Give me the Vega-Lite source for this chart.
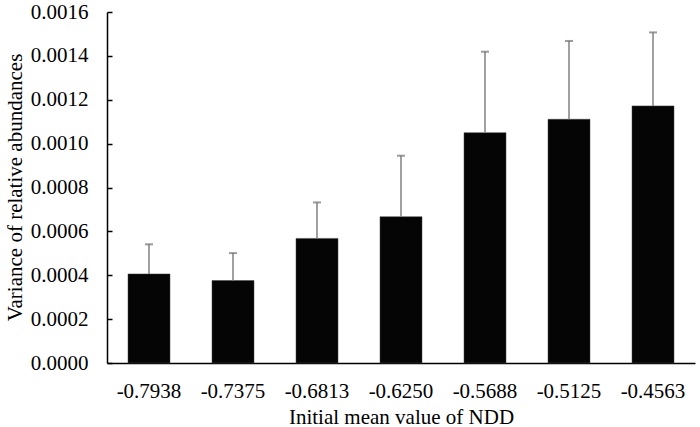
{
  "$schema": "https://vega.github.io/schema/vega-lite/v6.json",
  "autosize": {"type": "none"},
  "width": 588,
  "height": 351,
  "padding": {"left": 107, "top": 12, "right": 5, "bottom": 64},
  "background": "white",
  "config": {
    "view": {"stroke": null},
    "font": "Liberation Serif",
    "axis": {"grid": false, "domainColor": "#000000", "domainWidth": 1.5, "labelColor": "#000000", "titleColor": "#000000", "labelFont": "Liberation Serif", "titleFont": "Liberation Serif", "labelFontSize": 21, "titleFontSize": 21, "titleFontWeight": "normal"}
  },
  "data": {
    "values": [
      {"ndd": "-0.7938", "variance": 0.000406, "upper": 0.000541},
      {"ndd": "-0.7375", "variance": 0.000376, "upper": 0.000501},
      {"ndd": "-0.6813", "variance": 0.000568, "upper": 0.000732},
      {"ndd": "-0.6250", "variance": 0.000667, "upper": 0.000945},
      {"ndd": "-0.5688", "variance": 0.00105, "upper": 0.001419},
      {"ndd": "-0.5125", "variance": 0.001111, "upper": 0.001468},
      {"ndd": "-0.4563", "variance": 0.001172, "upper": 0.001507}
    ]
  },
  "encoding": {
    "x": {
      "field": "ndd", "type": "ordinal", "sort": null,
      "scale": {"paddingInner": 0.5, "paddingOuter": 0.25},
      "axis": {"title": "Initial mean value of NDD", "labelAngle": 0, "ticks": false, "labelPadding": 34, "labelBaseline": "alphabetic", "titleX": 294, "titleY": 60, "titleBaseline": "alphabetic", "titleAnchor": null, "titleAlign": "center"}
    }
  },
  "layer": [
    {
      "mark": {"type": "bar", "color": "#050505", "stroke": "#444444", "strokeWidth": 0.5},
      "encoding": {
        "y": {
          "field": "variance", "type": "quantitative",
          "scale": {"domain": [0, 0.0016], "nice": false},
          "axis": {"title": "Variance of relative abundances", "format": ".4f", "values": [0, 0.0002, 0.0004, 0.0006, 0.0008, 0.001, 0.0012, 0.0014, 0.0016], "tickSize": -5, "tickColor": "#000000", "tickWidth": 1.5, "labelPadding": 24, "labelBaseline": "middle", "titleX": -92, "titleY": 175, "titleAngle": -90, "titleBaseline": "middle", "titleAlign": "center", "titleAnchor": null}
        }
      }
    },
    {
      "mark": {"type": "rule", "color": "#808080", "strokeWidth": 1.5},
      "encoding": {
        "y": {"field": "variance", "type": "quantitative"},
        "y2": {"field": "upper"}
      }
    },
    {
      "mark": {"type": "tick", "color": "#707070", "size": 8, "thickness": 2, "orient": "horizontal"},
      "encoding": {
        "y": {"field": "upper", "type": "quantitative"}
      }
    }
  ]
}
